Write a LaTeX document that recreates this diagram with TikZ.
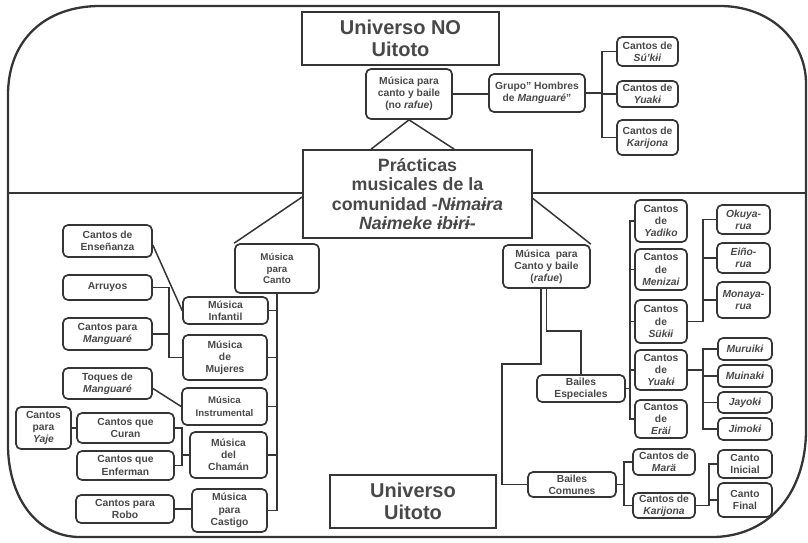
\documentclass[tikz,border=0pt]{standalone}
\usepackage{fontspec}
\setmainfont{Liberation Sans}
\usetikzlibrary{calc}
\definecolor{ink}{HTML}{353535}
\definecolor{txt}{HTML}{484848}
\newcommand\bx[7]{\node[#1, minimum width={#4-#2}, minimum height={#5-#3}] (#6) at ({(#2+#4)/2},{(#3+#5)/2}) {#7};}
\begin{document}
\begin{tikzpicture}[x=1pt,y=-1pt,
  box/.style={draw=ink, rounded corners=5pt, line width=1.7pt, inner sep=0pt, align=center, text=txt, font=\bfseries\fontsize{10.3}{12.2}\selectfont},
  sq/.style={draw=ink, line width=1.8pt, inner sep=0pt, align=center, text=txt},
  big/.style={sq, font=\bfseries\fontsize{20}{22}\selectfont},
  ln/.style={draw=ink, line width=1.5pt},
  frame/.style={draw=ink, line width=2.3pt}]
\useasboundingbox (0,0) rectangle (808,542);
% outer frame
\draw[frame] (8,95) .. controls (8,40) and (45,6) .. (100,6) -- (720,6)
  .. controls (770,6) and (805,40) .. (806,82) -- (806,430)
  .. controls (806,490) and (772,535) .. (715,537) -- (80,537)
  .. controls (35,537) and (8,495) .. (8,445) -- cycle;
\coordinate (fl) at (8,193);
\coordinate (fr) at (805,193);

% top part
\bx{big}{302}{12}{499}{65}{uno}{Universo NO\\Uitoto}
\bx{box}{366}{69}{452}{119}{mcb}{Música para\\canto y baile\\(no \textit{rafue})}
\bx{sq, font=\bfseries\fontsize{17.8}{19.5}\selectfont}{303}{150}{532}{238}{pr}{Prácticas\\musicales de la\\comunidad \textit{-Nɨmaɨra}\\\textit{Naɨmeke ɨbɨrɨ-}}
\bx{box}{489}{74}{585}{112}{grp}{Grupo" Hombres\\de \textit{Manguaré}"}
\bx{box}{617}{37}{678}{66}{c1}{Cantos de\\\textit{Sú'kɨi}}
\bx{box}{617}{81}{678}{107}{c2}{Cantos de\\\textit{Yuakɨ}}
\bx{box}{617}{120}{678}{155}{c3}{Cantos de\\\textit{Karijona}}

\draw[ln] (fl) -- (fl -| pr.west);
\draw[ln] (pr.east |- fr) -- (fr);
\draw[ln] ($(pr.north west)+(69,0)$) -- (mcb.south) -- ($(pr.north west)+(152,0)$);
\draw[ln] (mcb.east) -- (mcb.east -| grp.west);
\draw[ln] (grp.east) -- ++(16,0) coordinate (gb);
\draw[ln] (c1.west) -| (gb |- c3.west) -- (c3.west);
\draw[ln] (c2.west) -- (c2.west -| gb);

% left branch
\bx{box, font=\bfseries\fontsize{9.8}{11.5}\selectfont}{235}{244}{319}{293}{mpc}{Música\\para\\Canto}
\draw[ln] ($(pr.north west)!0.534!(pr.south west)$) -- (mpc.north west);
\bx{box}{183}{297}{268}{324}{inf}{Música\\Infantil}
\bx{box}{183}{335}{267}{380}{muj}{Música\\de\\Mujeres}
\bx{box, font=\bfseries\fontsize{9.6}{12.2}\selectfont}{182}{388}{267}{425}{ins}{Música\\Instrumental}
\bx{box}{190}{432}{267}{478}{cha}{Música\\del\\Chamán}
\bx{box}{192}{489}{267}{532}{cas}{Música\\para\\Castigo}
\draw[ln] (mpc.south) -- (mpc.south |- cas.east);
\foreach \n in {inf,muj,ins,cha,cas} \draw[ln] (\n.east) -- (\n.east -| mpc.south);

\bx{box}{63}{225}{152}{257}{ens}{Cantos de\\Enseñanza}
\bx{box}{63}{275}{152}{300}{arr}{Arruyos}
\bx{box}{63}{318}{152}{350}{man}{Cantos para\\\textit{Manguaré}}
\bx{box}{63}{368}{152}{399}{toq}{Toques de\\\textit{Manguaré}}
\bx{box}{77}{413}{174}{443}{cur}{Cantos que\\Curan}
\bx{box}{77}{451}{174}{480}{enf}{Cantos que\\Enferman}
\bx{box}{16}{407}{71}{449}{yaj}{Cantos\\para\\\textit{Yaje}}
\bx{box}{76}{495}{174}{523}{rob}{Cantos para\\Robo}
\draw[ln] ($(ens.north east)!0.62!(ens.south east)$) -- (inf.west);
\draw[ln] (arr.east) -- ++(16,0) coordinate (ab) |- (muj.west);
\draw[ln] (man.east) -- (man.east -| ab);
\draw[ln] ($(toq.north east)!0.65!(toq.south east)$) -- (ins.west);
\draw[ln] (cur.east) -- ++(7,0) coordinate (cb) -- (cb |- enf.east) -- (enf.east);
\draw[ln] (cha.west) -- (cha.west -| cb);
\draw[ln] (yaj.east) -- (cur.west);
\draw[ln] (rob.east) -- (rob.east -| cas.west);

% right branch
\bx{box}{503}{245}{590}{288}{mcr}{Música~~para\\Canto y baile\\(\textit{rafue})}
\draw[ln] ($(pr.north east)!0.55!(pr.south east)$) -- (mcr.north east);
\bx{box}{537}{375}{625}{402}{esp}{Bailes\\Especiales}
\bx{box}{528}{472}{616}{497}{com}{Bailes\\Comunes}
\draw[ln] (mcr.south) -- ++(0,42) -| (esp.north);
\draw[ln] ($(mcr.south)+(-5.5,0)$) -- ++(0,75) coordinate (t1) -- (t1 -| mcr.west) -- (mcr.west |- com.west) -- (com.west);

\bx{box}{635}{200}{687}{242}{yad}{Cantos\\de\\\textit{Yadiko}}
\bx{box}{635}{249}{687}{290}{men}{Cantos\\de\\\textit{Menizai}}
\bx{box}{635}{300}{687}{343}{suk}{Cantos\\de\\\textit{Sükɨi}}
\bx{box}{635}{350}{687}{390}{yua}{Cantos\\de\\\textit{Yuakɨ}}
\bx{box}{635}{400}{687}{438}{era}{Cantos\\de\\\textit{Eräi}}
\draw[ln] (esp.east) -- ++(4,0) coordinate (eb);
\draw[ln] (yad.west) -| (eb |- era.west) -- (era.west);
\foreach \n in {men,suk,yua} \draw[ln] (\n.west) -- (\n.west -| eb);

\bx{box}{717}{205}{770}{234}{oku}{\textit{Okuya-}\\\textit{rua}}
\bx{box}{717}{243}{770}{273}{ein}{\textit{Eiño-}\\\textit{rua}}
\bx{box}{717}{282}{770}{318}{mon}{\textit{Monaya-}\\\textit{rua}}
\draw[ln] (suk.east) -- ++(15,0) coordinate (sb);
\draw[ln] (oku.west) -| (sb);
\draw[ln] (ein.west) -- (ein.west -| sb);
\draw[ln] (mon.west) -- (mon.west -| sb);

\bx{box}{718}{338}{772}{360}{mur}{\textit{Muruikɨ}}
\bx{box}{718}{365}{772}{387}{mui}{\textit{Muinakɨ}}
\bx{box}{718}{392}{772}{413}{jay}{\textit{Jayokɨ}}
\bx{box}{718}{418}{772}{440}{jim}{\textit{Jimokɨ}}
\draw[ln] (yua.east) -- ++(15,0) coordinate (yb);
\draw[ln] (mur.west) -| (yb |- jim.west) -- (jim.west);
\draw[ln] (mui.west) -- (mui.west -| yb);
\draw[ln] (jay.west) -- (jay.west -| yb);

\bx{box}{633}{449}{695}{475}{mar}{Cantos de\\\textit{Marä}}
\bx{box}{633}{493}{695}{518}{kar}{Cantos de\\\textit{Karijona}}
\draw[ln] (com.east) -- ++(7,0) coordinate (kb);
\draw[ln] (mar.west) -| (kb |- kar.west) -- (kar.west);
\bx{box}{718}{450}{772}{478}{ini}{Canto\\Inicial}
\bx{box}{718}{483}{772}{517}{fin}{Canto\\Final}
\draw[ln] (kar.east) -- ++(13,0) coordinate (kb2) |- (ini.west);
\draw[ln] (fin.west) -- (fin.west -| kb2);

\bx{big}{330}{475}{496}{528}{uu}{Universo\\Uitoto}
\end{tikzpicture}
\end{document}
